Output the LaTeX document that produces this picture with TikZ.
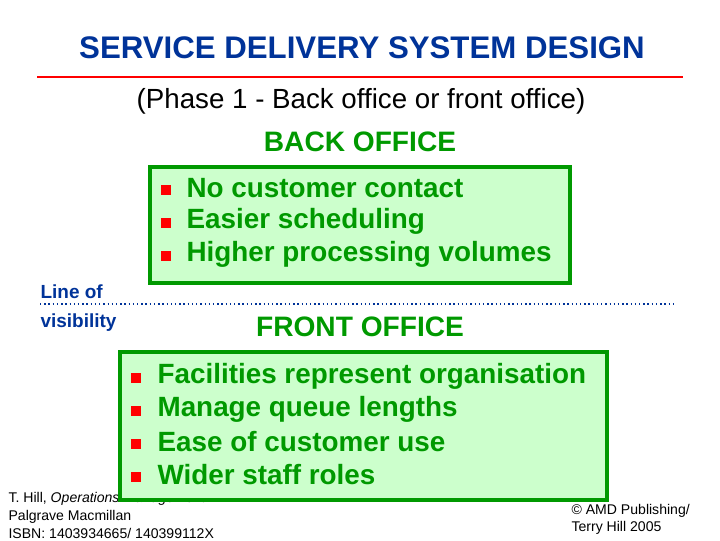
\documentclass[tikz,border=0pt]{standalone}
\usepackage{fontspec}
\setmainfont{Liberation Sans}
\usepackage{xcolor}
\usetikzlibrary{positioning}
\definecolor{titleblue}{RGB}{0,51,153}
\definecolor{officegreen}{RGB}{0,153,0}
\definecolor{boxfill}{RGB}{204,255,204}
\begin{document}
\begin{tikzpicture}[x=0.025cm, y=-0.025cm, thick]
\tikzstyle{panel} = [rectangle, draw=officegreen, line width=3pt, fill=boxfill]
\tikzstyle{heading} = [font=\bfseries\fontsize{20}{24}\selectfont, text=officegreen]
\tikzstyle{point} = [anchor=west, inner sep=0pt, font=\bfseries\fontsize{19.8}{23}\selectfont, text=officegreen]
\tikzstyle{bullet} = [rectangle, fill=red, minimum size=7.5pt, inner sep=0pt]
\tikzstyle{small} = [anchor=west, inner sep=0pt, font=\fontsize{10}{12}\selectfont]
\tikzstyle{lovtext} = [anchor=west, inner sep=0pt, font=\bfseries\fontsize{13.5}{16}\selectfont, text=titleblue]
\useasboundingbox (0,0) rectangle (720,540);

\node [font=\bfseries\fontsize{22.2}{26}\selectfont, text=titleblue] (title) at (362,48) {SERVICE DELIVERY SYSTEM DESIGN};
\coordinate (rl) at (37,77);
\coordinate (rr) at (683,77);
\draw [red, line width=1.2pt] (rl) -- (rr);
\node [font=\fontsize{19.7}{23}\selectfont] (phase) at (361,101) {(Phase 1 - Back office or front office)};

% footer (partly hidden by the front office box)
\node [small] (ref1) at (8,499) {T. Hill, \textit{Operations Management}};
\node [small] (ref2) at (8,517) {Palgrave Macmillan};
\node [small] (ref3) at (8,533) {ISBN: 1403934665/ 140399112X};
\node [small] (copy1) at (571,511) {© AMD Publishing/};
\node [small] (copy2) at (571,528) {Terry Hill 2005};

% back office
\node [heading] (back) at (360,142) {BACK OFFICE};
\draw [panel] (150,167) rectangle (570,283);
\foreach \y/\txt in {188/No customer contact, 221/Easier scheduling, 254/Higher processing volumes} {
  \node [bullet] at (166,\y+2) {};
  \node [point] at (186,\y) {\txt};
}

% line of visibility
\node [lovtext] (lov1) at (40,292) {Line of};
\node [lovtext] (lov2) at (40,323) {visibility};
\coordinate (vl) at (40,304);
\coordinate (vr) at (675,304);
\draw [titleblue, dotted, line width=1pt] (vl) -- (vr);

% front office
\node [heading] (front) at (360,327) {FRONT OFFICE};
\draw [panel] (120,352) rectangle (607,500);
\foreach \y/\txt in {376/Facilities represent organisation, 409/Manage queue lengths, 442/Ease of customer use, 475/Wider staff roles} {
  \node [bullet] at (136,\y+2) {};
  \node [point] at (157,\y) {\txt};
}
\end{tikzpicture}
\end{document}
